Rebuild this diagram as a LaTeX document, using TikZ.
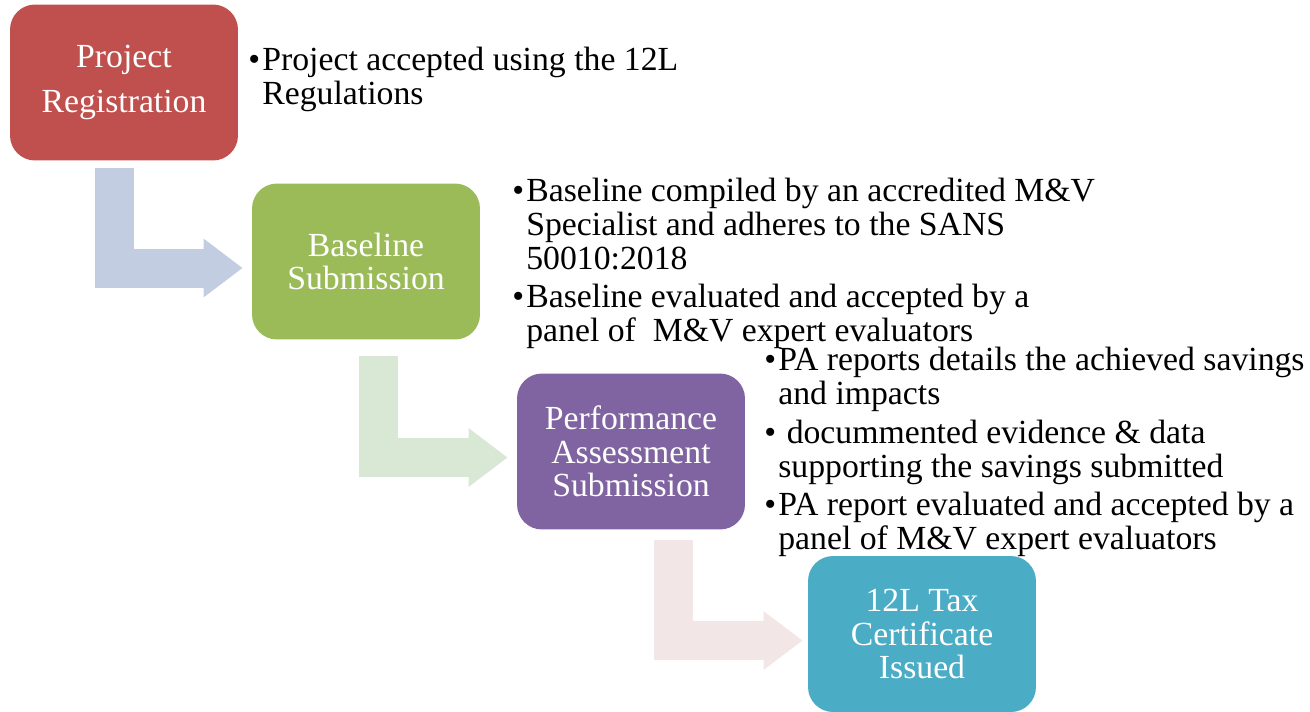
\documentclass[tikz,border=0pt]{standalone}
\usepackage{fontspec}
\setmainfont{Liberation Serif}
\usepackage{xcolor}
\usetikzlibrary{arrows.meta}
\definecolor{regred}{HTML}{C0504D}
\definecolor{basegreen}{HTML}{9BBB59}
\definecolor{assesspurple}{HTML}{8064A2}
\definecolor{certteal}{HTML}{4BACC6}
\definecolor{arrblue}{HTML}{C3CDE2}
\definecolor{arrgreen}{HTML}{D8E8D5}
\definecolor{arrpink}{HTML}{F2E6E6}
\newcommand{\notebul}{\makebox[0.28cm][l]{\textbullet}}
\newcommand{\noteind}{\hspace*{0.28cm}}

\begin{document}
\begin{tikzpicture}[x=0.02cm,y=-0.02cm,
  stepbox/.style={rectangle,rounded corners=0.5cm,minimum width=4.56cm,minimum height=3.12cm,
    inner sep=0pt,text=white,align=center,font=\fontsize{19.2}{19.2}\selectfont},
  notetext/.style={anchor=base west,inner sep=0pt,align=left,font=\fontsize{19.2}{19.2}\selectfont},
  bendarrow/.style={line width=0.78cm,line join=miter,-{Triangle[length=0.78cm,width=1.12cm]},shorten >=0.18cm}]
\useasboundingbox (0,0) rectangle (1310,711);
\node[stepbox,fill=regred] (pr) at (124,82.5) {Project\\[0.22cm]Registration};
\node[stepbox,fill=basegreen] (bs) at (366,261.5) {Baseline\\Submission};
\node[stepbox,fill=assesspurple] (pa) at (631,451.5) {Performance\\Assessment\\Submission};
\node[stepbox,fill=certteal] (tc) at (922,634) {12L Tax\\Certificate\\Issued};
\draw[bendarrow,draw=arrblue] ([xshift=-0.2cm,yshift=-0.14cm]pr.south) |- ([yshift=-0.13cm]bs.west);
\draw[bendarrow,draw=arrgreen] ([xshift=0.25cm,yshift=-0.32cm]bs.south) |- ([yshift=-0.12cm]pa.west);
\draw[bendarrow,draw=arrpink,shorten >=0.1cm] ([xshift=0.85cm,yshift=-0.2cm]pa.south) |- ([yshift=-0.13cm]tc.west);
% base anchor sits on the last line
\node[notetext] (prnote) at (248,104) {\notebul Project accepted using the 12L\\\noteind Regulations};
\node[notetext] (bsnote) at (512,269) {\notebul Baseline compiled by an accredited M\&V\\\noteind Specialist and adheres to the SANS\\\noteind 50010:2018};
\node[notetext] (bseval) at (512,341) {\notebul Baseline evaluated and accepted by a\\\noteind panel of\ \ M\&V expert evaluators};
\node[notetext] (panote) at (764,404) {\notebul PA reports details the achieved savings\\\noteind and impacts};
\node[notetext] (padocs) at (764,477) {\notebul\ docummented evidence \& data\\\noteind supporting the savings submitted};
\node[notetext] (paeval) at (764,549) {\notebul PA report evaluated and accepted by a\\\noteind panel of M\&V expert evaluators};
\end{tikzpicture}
\end{document}
